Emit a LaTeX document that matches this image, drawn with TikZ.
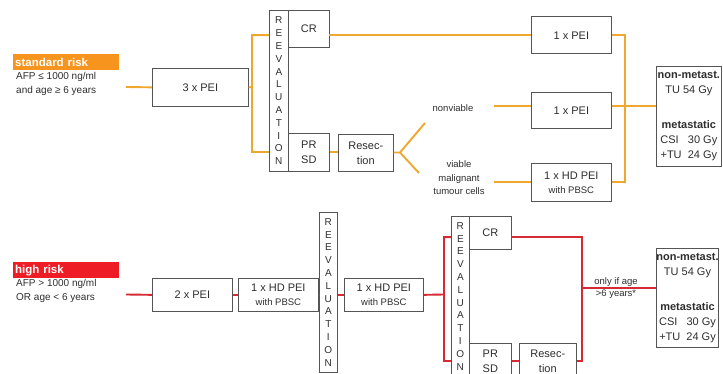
\documentclass[tikz,border=0pt]{standalone}
\usepackage{fontspec}
\setmainfont{Liberation Sans}
\usepackage{xcolor}
\definecolor{hborange}{HTML}{F7941D}
\definecolor{hbline}{HTML}{EFA730}
\definecolor{hbred}{HTML}{EE1C25}
\definecolor{hbredline}{HTML}{D52A33}
\definecolor{hbgray}{HTML}{555555}
\definecolor{hbtext}{HTML}{2E2E2E}
\usepackage{tikz}
\usetikzlibrary{calc,positioning}
\tikzset{
  every picture/.style={line join=miter},
  box/.style={draw=hbgray, line width=0.7pt, fill=white, inner sep=0pt,
    anchor=north west, align=center, text=hbtext,
    font=\fontsize{11}{15}\selectfont},
  revbox/.style={box, font=\fontsize{10}{12.8}\selectfont},
  risklbl/.style={anchor=north west, inner xsep=2pt, inner ysep=0pt,
    text width=102pt, minimum height=16pt, text=white,
    font=\bfseries\fontsize{11.5}{13}\selectfont},
  crit/.style={anchor=north west, align=left, text=hbtext, inner sep=0pt,
    font=\fontsize{10}{14.5}\selectfont},
  note/.style={align=center, text=hbtext, inner sep=0pt,
    font=\fontsize{9.5}{13.5}\selectfont},
  orline/.style={hbline, line width=1.9pt},
  rdline/.style={hbredline, line width=1.9pt},
}
\newcommand{\revword}{R\\E\\E\\V\\A\\L\\U\\A\\T\\I\\O\\N}
\newcommand{\pbsc}{\\[-1pt]{\fontsize{9.5}{11}\selectfont with PBSC}}
\newcommand{\rttext}{\textbf{non-metast.}\\TU 54 Gy\\[20pt]
  \textbf{metastatic}\\CSI\ \ \ 30 Gy\\+TU\ \ 24 Gy}

\begin{document}
\begin{tikzpicture}[x=1pt, y=-1pt]
\useasboundingbox (0,0) rectangle (723,374);
\clip (0,0) rectangle (723,374);
% ------------------------------------------------------------- standard risk
\node[risklbl, fill=hborange] (std) at (13,54) {standard risk};
\node[crit] (stdc) at (16,72) {AFP ≤ 1000 ng/ml\\and age ≥ 6 years};
\coordinate (s0) at (126,87);
\node[box, minimum width=96pt, minimum height=38pt] (pei3) at (152,68) {3 x PEI};
\node[revbox, minimum width=19pt, minimum height=161pt] (rev1) at (269,10) {\revword};
\node[box, minimum width=41pt, minimum height=37pt] (cr1) at (288,10) {CR};
\node[box, minimum width=41pt, minimum height=38pt] (pr1) at (288,133) {PR\\SD};
\node[box, minimum width=55pt, minimum height=37pt] (res1) at (338,134) {Resec-\\tion};
\node[note] (nonv) at (453,108) {nonviable};
\node[note] (viab) at (459,178) {viable\\malignant\\tumour cells};
\node[box, minimum width=80pt, minimum height=37pt] (pA) at (531,16.5) {1 x PEI};
\node[box, minimum width=80pt, minimum height=36pt] (pB) at (531,92) {1 x PEI};
\node[box, minimum width=80pt, minimum height=38pt] (pC) at (531,163) {1 x HD PEI\pbsc};
\node[box, minimum width=65pt, minimum height=100pt] (rt1) at (656,66) {\rttext};

\coordinate (c1) at (329,35.2);
\coordinate (f1) at (252,87);
\coordinate (f2) at (400,152.5);
\coordinate (nv) at (494,106);
\coordinate (vb) at (494,182);
\coordinate (m1) at (625,106);
\draw[orline] (s0) -- (pei3.west);
\draw[orline] (pei3.east) -- (f1) |- (rev1.west |- c1);
\draw[orline] (f1) |- (rev1.west |- pr1.east);
\draw[orline] (pr1.east) -- (res1.west |- pr1.east);
\draw[orline] (res1.east |- f2) -- (f2) -- (425,123) coordinate (fa);
\draw[orline] (f2) -- (419,173) coordinate (fb);
\draw[orline] (c1) -- (c1 -| pA.west);
\draw[orline] (nv) -- (nv -| pB.west);
\draw[orline] (vb) -- (vb -| pC.west);
\draw[orline] (pA.east |- c1) -| (m1) |- (pC.east);
\draw[orline] (pB.east |- m1) -- (m1 -| rt1.west);

% ------------------------------------------------------------- high risk
\node[risklbl, fill=hbred] (hr) at (13,262) {high risk};
\node[crit] (hrc) at (16,279) {AFP > 1000 ng/ml\\OR age < 6 years};
\coordinate (h0) at (126,294.5);
\node[box, minimum width=80pt, minimum height=33pt] (pei2) at (152,278) {2 x PEI};
\node[box, minimum width=80pt, minimum height=33pt] (hd1) at (238,278) {1 x HD PEI\pbsc};
\node[revbox, minimum width=18pt, minimum height=160pt] (rev2) at (319,212) {\revword};
\node[box, minimum width=79pt, minimum height=33pt] (hd2) at (344,278) {1 x HD PEI\pbsc};
\node[revbox, minimum width=18pt, minimum height=160pt] (rev3) at (451,216) {\revword};
\node[box, minimum width=42pt, minimum height=33pt] (cr3) at (469,216) {CR};
\node[box, minimum width=42pt, minimum height=36pt] (pr3) at (469,343) {PR\\SD};
\node[box, minimum width=57pt, minimum height=36pt] (res3) at (519,343) {Resec-\\tion};
\node[note, font=\fontsize{9.5}{12}\selectfont] (age) at (616,288) {only if age\\>6 years*};
\node[box, minimum width=62pt, minimum height=99pt] (rt2) at (656,248) {\rttext};

\coordinate (c3) at (511,237.2);
\coordinate (f3) at (444,294.5);
\coordinate (m2) at (582,288);
\draw[rdline] (h0) -- (pei2.west);
\draw[rdline] (pei2.east) -- (hd1.west);
\draw[rdline] (hd1.east) -- (rev2.west |- hd1.east);
\draw[rdline] (rev2.east |- hd2.west) -- (hd2.west);
\draw[rdline] (hd2.east) -- (f3) |- (rev3.west |- c3);
\draw[rdline] (f3) |- (rev3.west |- pr3.east);
\draw[rdline] (pr3.east) -- (res3.west);
\draw[rdline] (c3) -| (m2) |- (res3.east);
\draw[rdline] (m2) -- (m2 -| rt2.west);
\end{tikzpicture}
\end{document}
